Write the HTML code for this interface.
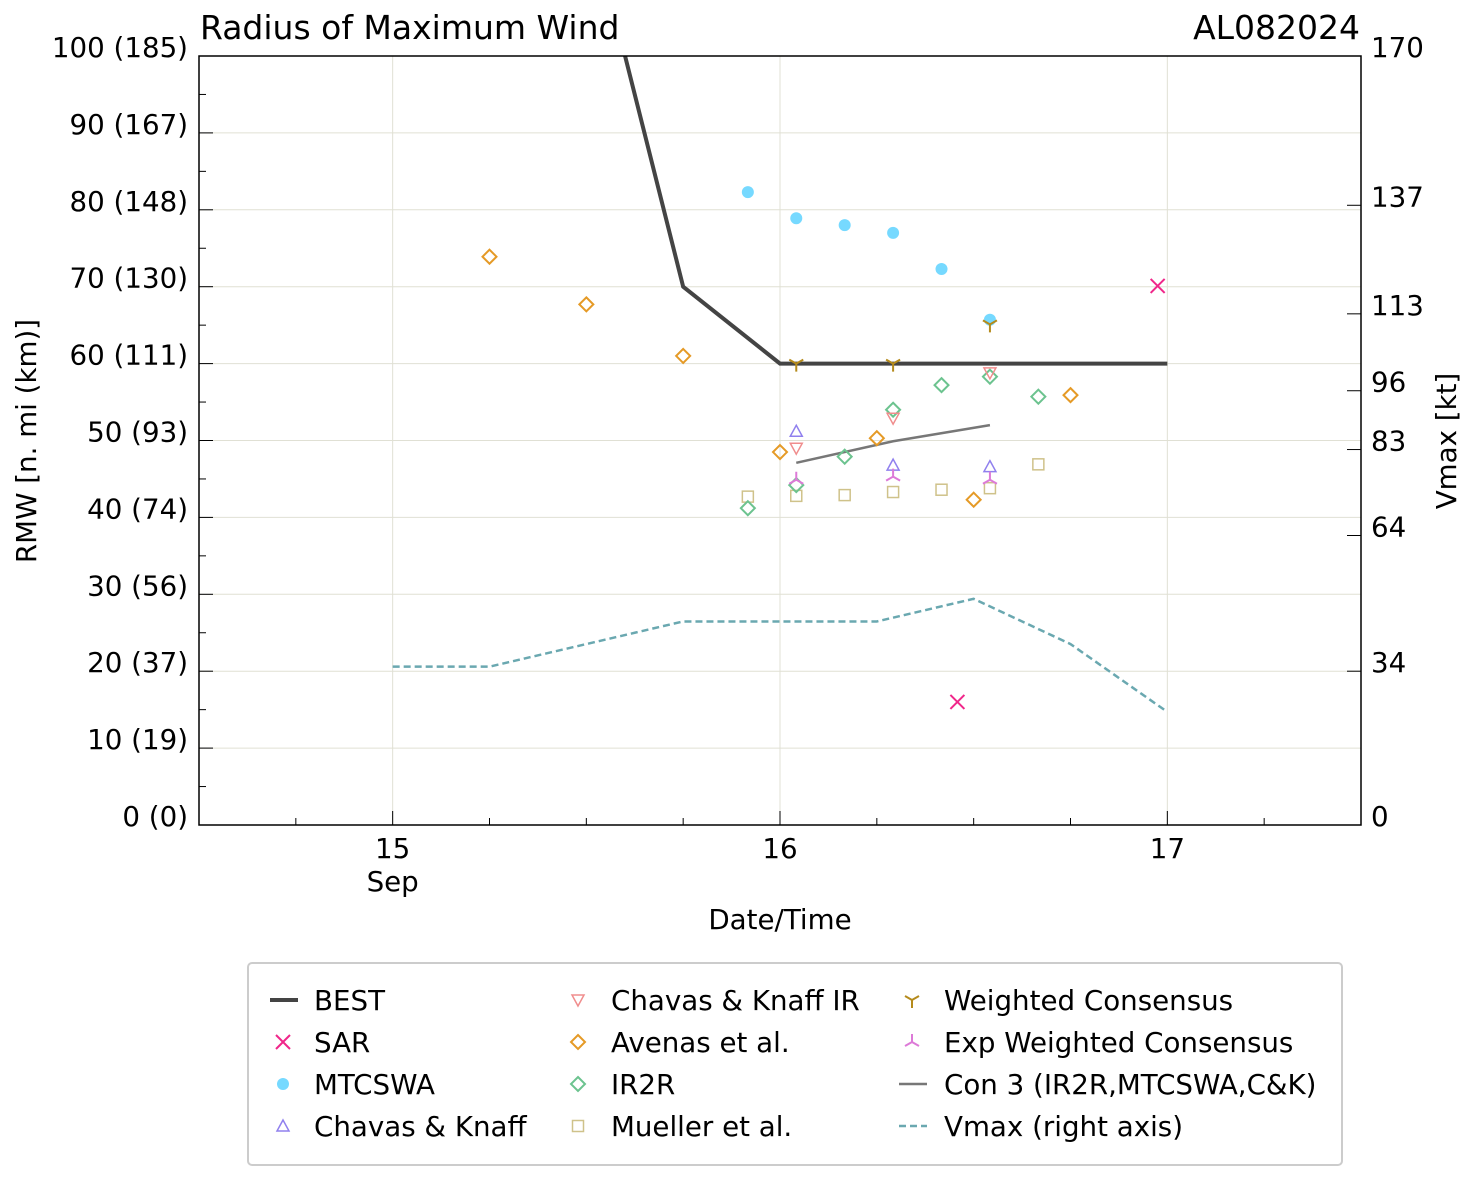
<!DOCTYPE html>
<html><head><meta charset="utf-8">
<style>
html,body{margin:0;padding:0;background:#fff;}
svg{display:block;font-family:"DejaVu Sans","Liberation Sans",sans-serif;}
</style></head>
<body>
<svg id="chart" width="1477" height="1180" viewBox="0 0 1477 1180" xmlns="http://www.w3.org/2000/svg">
<rect width="1477" height="1180" fill="#fff"/>
<g id="grid"></g>
<g id="series"></g>
<g id="axes"></g>
<text x="200" y="39" font-size="33">Radius of Maximum Wind</text>
<text x="1360" y="39" font-size="33" text-anchor="end">AL082024</text>
<text x="780" y="929" font-size="27.7" text-anchor="middle">Date/Time</text>
<text transform="translate(36,441) rotate(-90)" font-size="27.7" text-anchor="middle">RMW [n. mi (km)]</text>
<text transform="translate(1456,441) rotate(-90)" font-size="27.7" text-anchor="middle">Vmax [kt]</text>
<g id="legend"></g>
</svg>
<script>
const bestT=[15.5,15.75,16.0,17.0];
const bestV=[120,70,60,60];
const sarT=[16.458,16.975];
const sarV=[16.0,70.1];
const mtcT=[15.917,16.042,16.167,16.292,16.417,16.542];
const mtcV=[82.3,78.9,78.0,77.0,72.3,65.7];
const ckT=[16.042,16.292,16.542];
const ckV=[51.2,46.8,46.6];
const ckirT=[16.042,16.292,16.542];
const ckirV=[49.0,52.9,58.8];
const avT=[15.25,15.5,15.75,16.0,16.25,16.5,16.75];
const avV=[73.9,67.7,61.0,48.5,50.3,42.3,55.9];
const ir2rT=[15.917,16.042,16.167,16.292,16.417,16.542,16.667];
const ir2rV=[41.2,44.2,47.9,54.0,57.2,58.3,55.7];
const muT=[15.917,16.042,16.167,16.292,16.417,16.542,16.667];
const muV=[42.7,42.8,42.9,43.3,43.6,43.8,46.9];
const wcT=[16.042,16.292,16.542];
const wcV=[60.0,60.0,65.1];
const ewcT=[16.042,16.292,16.542];
const ewcV=[44.9,45.3,44.9];
const c3T=[16.042,16.292,16.542];
const c3V=[47.1,49.9,52.0];
const vmT=[15.0,15.25,15.75,16.0,16.25,16.5,16.75,17.0];
const vmV=[35,35,45,45,45,50,40,25];
const leftTicks=[0,10,20,30,40,50,60,70,80,90,100];
const leftLabels=["0 (0)","10 (19)","20 (37)","30 (56)","40 (74)","50 (93)","60 (111)","70 (130)","80 (148)","90 (167)","100 (185)"];
const rightTicks=[0,34,64,83,96,113,137,170];
const xTicks=[15,16,17];

const X0=199,X1=1361,Y0=56,Y1=825;
const xs=t=>X0+(t-14.5)/3*(X1-X0);
const ys=v=>Y1-v/100*(Y1-Y0);
const yr=v=>Y1-v/170*(Y1-Y0);
const NS="http://www.w3.org/2000/svg";
function mk(tag,attrs,parent){const e=document.createElementNS(NS,tag);for(const k in attrs)e.setAttribute(k,attrs[k]);parent.appendChild(e);return e;}
const grid=document.getElementById('grid'),axes=document.getElementById('axes'),ser=document.getElementById('series'),leg=document.getElementById('legend');

leftTicks.forEach((v,i)=>{
  const y=ys(v);
  if(v>0&&v<100){const g=mk('line',{x1:X0,x2:X1,y1:y,y2:y,stroke:'#e0e0d4','stroke-width':1},grid);
  
  }
  mk('line',{x1:X0,x2:X0+14,y1:y,y2:y,stroke:'#000','stroke-width':1},axes);
  if(v<100)mk('line',{x1:X0,x2:X0+7,y1:ys(v+5),y2:ys(v+5),stroke:'#000','stroke-width':1},axes);
  const t=mk('text',{x:188,y:y+1,'font-size':27.7,'text-anchor':'end'},axes);t.textContent=leftLabels[i];
  
  
});
rightTicks.forEach(v=>{
  const y=yr(v);
  mk('line',{x1:X1-14,x2:X1,y1:y,y2:y,stroke:'#000','stroke-width':1},axes);
  const t=mk('text',{x:1371,y:y+1,'font-size':27.7},axes);t.textContent=String(v);
  
  
});
xTicks.forEach(d=>{
  const x=xs(d);
  const g=mk('line',{x1:x,x2:x,y1:Y0,y2:Y1,stroke:'#e0e0d4','stroke-width':1},grid);
  
  
  mk('line',{x1:x,x2:x,y1:Y1,y2:Y1-14,stroke:'#000'},axes);
  const t=mk('text',{x:x,y:858,'font-size':27.7,'text-anchor':'middle'},axes);t.textContent=String(d);
  
  
});
for(let d=14.75;d<17.5;d+=0.25){if(Math.abs(d-Math.round(d))<0.01)continue;const x=xs(d);mk('line',{x1:x,x2:x,y1:Y1,y2:Y1-7,stroke:'#000'},axes);}
const sep=mk('text',{x:xs(15),y:891,'font-size':27.7,'text-anchor':'middle'},axes);sep.textContent='Sep';
mk('rect',{x:X0,y:Y0,width:X1-X0,height:Y1-Y0,fill:'none',stroke:'#000','stroke-width':1.5},axes);

mk('clipPath',{id:'clip'},ser);
mk('rect',{x:X0,y:Y0,width:X1-X0,height:Y1-Y0},document.getElementById('clip'));
function line(T,V,yf,st,name){
  const p=mk('polyline',Object.assign({points:T.map((t,i)=>xs(t)+','+yf(V[i])).join(' '),fill:'none','clip-path':'url(#clip)'},st),ser);
  
  
}
function marker(type,x,y,c,parent){
  const s=7;
  if(type==='x'){mk('path',{d:`M${x-s} ${y-s}L${x+s} ${y+s}M${x-s} ${y+s}L${x+s} ${y-s}`,stroke:c,'stroke-width':2,fill:'none'},parent);}
  else if(type==='o'){mk('circle',{cx:x,cy:y,r:6,fill:c},parent);}
  else if(type==='^'){mk('path',{d:`M${x} ${y-6}L${x+6} ${y+5}L${x-6} ${y+5}Z`,stroke:c,'stroke-width':1.5,fill:'none'},parent);}
  else if(type==='v'){mk('path',{d:`M${x} ${y+6}L${x+6} ${y-5}L${x-6} ${y-5}Z`,stroke:c,'stroke-width':1.5,fill:'none'},parent);}
  else if(type==='D'){mk('path',{d:`M${x} ${y-7}L${x+7} ${y}L${x} ${y+7}L${x-7} ${y}Z`,stroke:c,'stroke-width':2,fill:'none'},parent);}
  else if(type==='s'){mk('rect',{x:x-5.5,y:y-5.5,width:11,height:11,stroke:c,'stroke-width':1.5,fill:'none'},parent);}
  else if(type==='Y'){mk('path',{d:`M${x} ${y}L${x} ${y+8}M${x} ${y}L${x-7} ${y-4}M${x} ${y}L${x+7} ${y-4}`,stroke:c,'stroke-width':2,fill:'none'},parent);}
  else if(type==='lam'){mk('path',{d:`M${x} ${y}L${x} ${y-8}M${x} ${y}L${x-7} ${y+4}M${x} ${y}L${x+7} ${y+4}`,stroke:c,'stroke-width':2,fill:'none'},parent);}
}
function pts(T,V,type,c,name){
  T.forEach((t,i)=>{const g=mk('g',{},ser);
  
  
  marker(type,xs(t),ys(V[i]),c,g);});
}
line(vmT,vmV,yr,{stroke:'#6aa8b0','stroke-width':2.5,'stroke-dasharray':'7,4'},'vmax-line');
line(bestT,bestV,ys,{stroke:'#444','stroke-width':4},'best-track-line');
line(c3T,c3V,ys,{stroke:'#777','stroke-width':2.5},'con3-line');
pts(muT,muV,'s','#cfc28a','mueller-point');
pts(ir2rT,ir2rV,'D','#6cc38f','ir2r-point');
pts(avT,avV,'D','#e59a26','avenas-point');
pts(ckirT,ckirV,'v','#f08d8d','chavas-knaff-ir-point');
pts(ckT,ckV,'^','#9080ee','chavas-knaff-point');
pts(mtcT,mtcV,'o','#76d9ff','mtcswa-point');
pts(wcT,wcV,'Y','#b58b1c','weighted-consensus-point');
pts(ewcT,ewcV,'lam','#dd7ad8','exp-weighted-consensus-point');
pts(sarT,sarV,'x','#f0268a','sar-point');

mk('rect',{x:248,y:963,width:1094,height:202,rx:4,fill:'#fff',stroke:'#ccc','stroke-width':2},leg);
const items=[
 ['line','#444','BEST',0,0],['x','#f0268a','SAR',0,1],['o','#76d9ff','MTCSWA',0,2],['^','#9080ee','Chavas & Knaff',0,3],
 ['v','#f08d8d','Chavas & Knaff IR',1,0],['D','#e59a26','Avenas et al.',1,1],['D','#6cc38f','IR2R',1,2],['s','#cfc28a','Mueller et al.',1,3],
 ['Y','#b58b1c','Weighted Consensus',2,0],['lam','#dd7ad8','Exp Weighted Consensus',2,1],['line2','#777','Con 3 (IR2R,MTCSWA,C&K)',2,2],['dash','#6aa8b0','Vmax (right axis)',2,3]];
const colMX=[283,578,912],colTX=[314,611,944];
items.forEach(it=>{
  const g=mk('g',{},leg);
  
  
  const y=1000+it[4]*42,mx=colMX[it[3]];
  if(it[0]==='line')mk('line',{x1:mx-13,x2:mx+15,y1:y,y2:y,stroke:it[1],'stroke-width':4},g);
  else if(it[0]==='line2')mk('line',{x1:mx-13,x2:mx+15,y1:y,y2:y,stroke:it[1],'stroke-width':2.5},g);
  else if(it[0]==='dash')mk('line',{x1:mx-13,x2:mx+15,y1:y,y2:y,stroke:it[1],'stroke-width':2.5,'stroke-dasharray':'7,4'},g);
  else marker(it[0],mx,y,it[1],g);
  const t=mk('text',{x:colTX[it[3]],y:y+10,'font-size':27.7},g);t.textContent=it[2];
});
</script>
</body></html>
